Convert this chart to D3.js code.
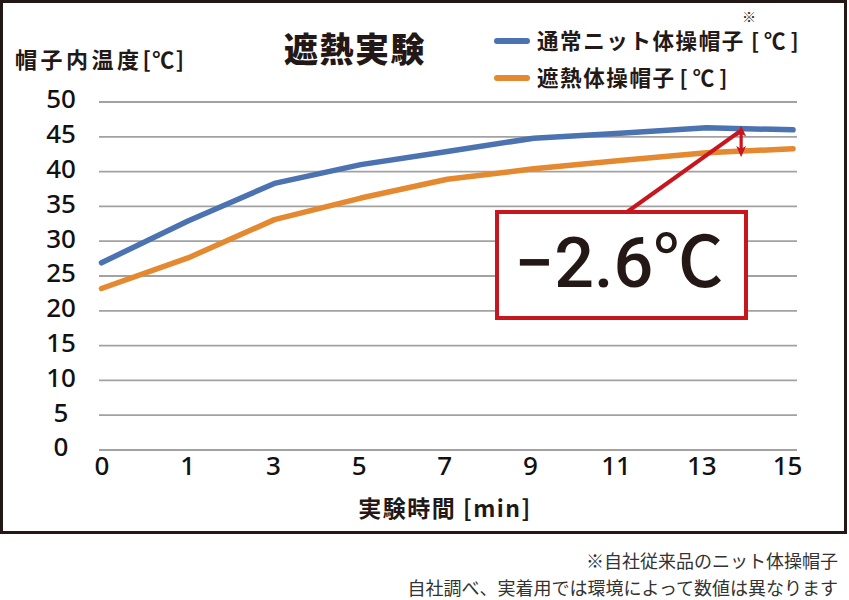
<!DOCTYPE html>
<html><head><meta charset="utf-8">
<script src="https://cdn.jsdelivr.net/npm/d3@7/dist/d3.min.js"></script>
<style>
html,body{margin:0;padding:0;background:#fff;}
svg{display:block;}
</style></head>
<body><svg id="c" width="849" height="600"></svg>
<script>
// ---- data ----
const categories = ["0","1","3","5","7","9","11","13","15"];
const knitValues = [26.9, 32.9, 38.3, 41.0, 42.9, 44.8, 45.5, 46.3, 46.0];
const coolValues = [23.2, 27.6, 33.1, 36.2, 38.9, 40.4, 41.6, 42.7, 43.3];
const yTicks = [0,5,10,15,20,25,30,35,40,45,50];
const seriesNames = ["通常ニット体操帽子", "遮熱体操帽子"];
const unitLabel = "[℃]";
const seriesColors = ["#4b72b1", "#e4892f"];
const diffLabel = "−2.6℃";
const arrowTop = 46.7, arrowBottom = 42.0;

const svg = d3.select("#c");
const CJK = "'Noto Sans CJK JP','Noto Sans',sans-serif";
const NUM = "'Noto Sans','Noto Sans CJK JP',sans-serif";
const INK = "#231815";

// scales
const y = d3.scaleLinear().domain([0,50]).range([450,102]);
const xLine = d3.scalePoint().domain(categories).range([101.5,793]);
const xAxis = d3.scalePoint().domain(categories).range([101.5,787]);

// frame
svg.append("rect").attr("x",1.5).attr("y",1.5).attr("width",844).attr("height",531)
  .attr("fill","#fff").attr("stroke",INK).attr("stroke-width",3);

// gridlines
svg.append("g").selectAll("line").data(yTicks).join("line")
  .attr("x1",99).attr("x2",797)
  .attr("y1",d=>y(d)).attr("y2",d=>y(d))
  .attr("stroke","#a2a2a2").attr("stroke-width",1.8);

// y tick labels
svg.append("g").selectAll("text").data(yTicks).join("text")
  .attr("x",61).attr("y",d=>y(d)-3).attr("dy","0.36em")
  .attr("text-anchor","middle")
  .attr("font-family",NUM).attr("font-weight",500).attr("font-size",26)
  .attr("fill","#111").text(d=>d);

// x axis labels
const gx = svg.append("g").attr("transform","translate(0,466)")
  .call(d3.axisBottom(xAxis).tickSize(0).tickPadding(0));
gx.select(".domain").remove();
gx.selectAll("text").attr("dy","0.36em").attr("y",0)
  .attr("font-family",NUM).attr("font-weight",500).attr("font-size",26).attr("fill","#111");

// lines
const line = d3.line().x((d,i)=>xLine(categories[i])).y(d=>y(d));
[knitValues, coolValues].forEach((vals,k)=>{
  svg.append("path").datum(vals).attr("d",line)
    .attr("fill","none").attr("stroke",seriesColors[k]).attr("stroke-width",5.5)
    .attr("stroke-linejoin","round").attr("stroke-linecap","round");
});

// annotation
const red = "#c8161f";
const ax = xLine("13") + (xLine("15")-xLine("13"))*0.4;
svg.append("defs").html(
 `<marker id="ah" viewBox="0 0 10 10" refX="6" refY="5" markerUnits="userSpaceOnUse" markerWidth="11" markerHeight="11" orient="auto-start-reverse">
   <path d="M0,0.5 L10,5 L0,9.5 L2.5,5 z" fill="${red}"/></marker>`);
svg.append("line").attr("x1",627).attr("y1",212).attr("x2",ax-1).attr("y2",y(45.8))
  .attr("stroke",red).attr("stroke-width",4);
svg.append("line").attr("x1",ax).attr("x2",ax).attr("y1",y(arrowTop)+5).attr("y2",y(arrowBottom)-5)
  .attr("stroke",red).attr("stroke-width",3.2)
  .attr("marker-start","url(#ah)").attr("marker-end","url(#ah)");
svg.append("rect").attr("x",497).attr("y",212).attr("width",249).attr("height",106)
  .attr("fill","#fff").attr("stroke",red).attr("stroke-width",4);
svg.append("text").attr("x",619).attr("y",287).attr("text-anchor","middle")
  .attr("font-family","Roboto,'Noto Sans CJK JP',sans-serif").attr("font-weight",500)
  .attr("font-size",70).attr("fill",INK).text(diffLabel);

// title & axis titles
svg.append("text").attr("x",355).attr("y",62).attr("text-anchor","middle")
  .attr("font-family",CJK).attr("font-weight",900).attr("font-size",34)
  .attr("letter-spacing",1.5).attr("fill",INK).text("遮熱実験");
const yl = svg.append("text").attr("x",15).attr("y",68)
  .attr("font-family",CJK).attr("font-weight",700).attr("font-size",22)
  .attr("letter-spacing",3.5).attr("fill",INK);
yl.append("tspan").text("帽子内温度");
yl.append("tspan").attr("letter-spacing",1.5).text(unitLabel);
svg.append("text").attr("x",445).attr("y",517).attr("text-anchor","middle")
  .attr("font-family",CJK).attr("font-weight",700).attr("font-size",23)
  .attr("letter-spacing",1.5).attr("fill",INK).text("実験時間 [min]");

// legend
const lg = svg.append("g");
seriesNames.forEach((name,k)=>{
  const yy = 41 + k*37;
  lg.append("line").attr("x1",497).attr("x2",527).attr("y1",yy).attr("y2",yy)
    .attr("stroke",seriesColors[k]).attr("stroke-width",6).attr("stroke-linecap","round");
  const t = lg.append("text").attr("x",537).attr("y",yy).attr("dy","0.36em")
    .attr("font-family",CJK).attr("font-weight",700).attr("font-size",21.5)
    .attr("letter-spacing",1.6).attr("fill",INK);
  t.append("tspan").text(name);
  t.append("tspan").attr("dx",k===0?6:4).attr("letter-spacing",5).text(unitLabel);
});
lg.append("text").attr("x",749).attr("y",22).attr("text-anchor","middle")
  .attr("font-family",CJK).attr("font-size",14).attr("fill",INK).text("※");

// footnotes
const notes = ["※自社従来品のニット体操帽子","自社調べ、実着用では環境によって数値は異なります"];
svg.append("g").selectAll("text").data(notes).join("text")
  .attr("x",838).attr("y",(d,i)=>562+i*27).attr("dy","0.36em").attr("text-anchor","end")
  .attr("font-family",CJK).attr("font-size",18).attr("fill","#333").text(d=>d);
</script></body></html>
